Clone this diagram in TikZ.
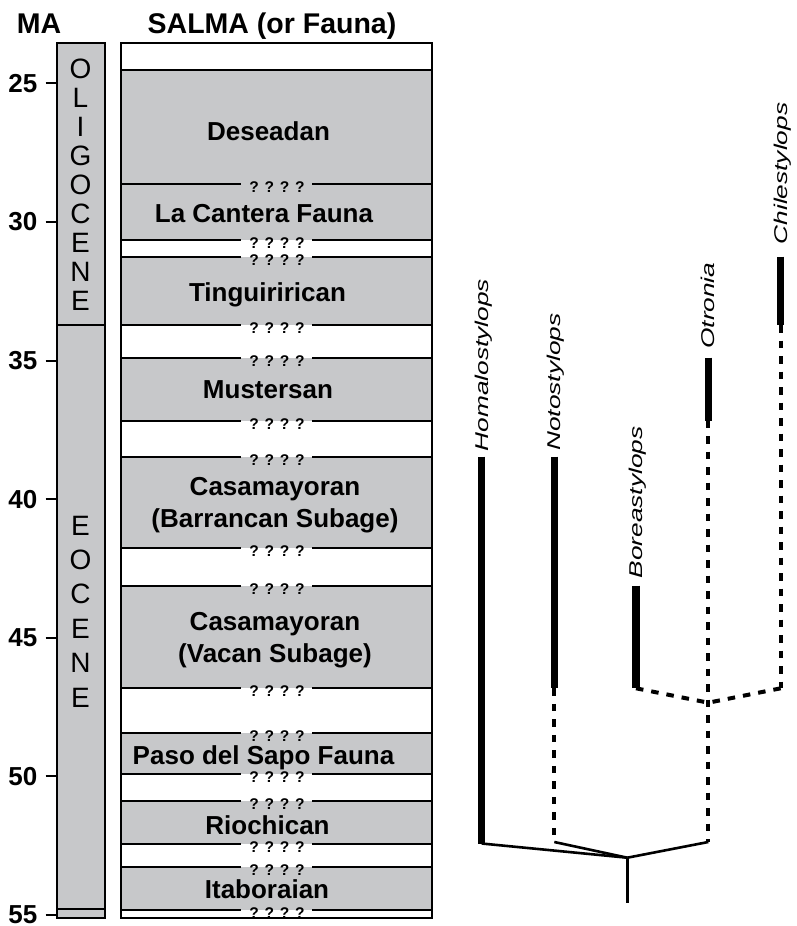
\documentclass[tikz,border=0pt]{standalone}
\usepackage{fontspec}
\setmainfont{Liberation Sans}
\definecolor{faunagray}{RGB}{199,200,202}

\begin{document}
\begin{tikzpicture}[x=1pt,y=-1pt,
        head/.style={font=\fontsize{28.5}{32}\selectfont\bfseries,anchor=base,inner sep=0},
        age/.style={font=\fontsize{26}{30}\selectfont\bfseries,anchor=base east,inner sep=0},
        epoch/.style={font=\fontsize{28}{30}\selectfont,anchor=base,inner sep=0},
        fauna label/.style={font=\fontsize{26}{32}\selectfont\bfseries,align=center,inner sep=0},
        qmark/.style={font=\fontsize{15.5}{18}\selectfont\bfseries,anchor=base,inner sep=0},
        taxon/.style={font=\fontsize{18.5}{20}\selectfont\itshape,rotate=90,xscale=1.42,anchor=base west,inner sep=0},
        col line/.style={line width=2pt},
        bound line/.style={line width=2.2pt},
        range bar/.style={line width=7.5pt},
        ghost/.style={line width=4pt,dash pattern=on 7.5pt off 8pt},
        branch/.style={line width=2.6pt}]

    \useasboundingbox (0,0) rectangle (796,926);

    % headings
    \node[head] (ma) at (39,33.5) {MA};
    \node[head] (salma) at (272,33.5) {SALMA (or Fauna)};

    % epoch column
    \filldraw[fill=faunagray,col line] (56.7,42.7) rectangle (104.5,918.3);
    \draw[col line] (56.7,325) -- (104.5,325);
    \draw[col line] (56.7,909.3) -- (104.5,909.3);
    \foreach \l [count=\i] in {O,L,I,G,O,C,E,N,E}
        \node[epoch] (olig\i) at (80.5,{78.3+29*(\i-1)}) {\l};
    \foreach \l [count=\i] in {E,O,C,E,N,E}
        \node[epoch] (eoc\i) at (80.5,{535+34.4*(\i-1)}) {\l};

    % age scale
    \foreach \m in {25,30,...,55} {
        \draw[col line] (45.7,{83.3+27.72*(\m-25)}) -- (56.7,{83.3+27.72*(\m-25)});
        \node[age] (age\m) at (37.5,{92.2+27.72*(\m-25)}) {\m};
    }

    % SALMA column
    \fill[white] (120.7,42.7) rectangle (431.7,918.3);
    \foreach \t/\b in {70/184,184/240,256.7/325,357.7/420.7,456.7/548.3,585.7/688.3,732.7/774,801/844,867.3/910}
        \fill[faunagray] (120.7,\t) rectangle (431.7,\b);
    \draw[col line] (120.7,42.7) rectangle (431.7,918.3);
    \draw[bound line] (120.7,70) -- (431.7,70);
    \foreach \y [count=\k] in {184,240,256.7,325,357.7,420.7,456.7,548.3,585.7,688.3,732.7,774,801,844,867.3,910} {
        \draw[bound line] (120.7,\y) -- (241,\y);
        \draw[bound line] (312,\y) -- (431.7,\y);
        \node[qmark] (q\k) at (277,{\y+8.5}) {? ? ? ?};
    }

    \node[fauna label,anchor=base] (deseadan) at (268.5,140.3) {Deseadan};
    \node[fauna label,anchor=base] (lacantera) at (264,222.8) {La Cantera Fauna};
    \node[fauna label,anchor=base] (tinguirirican) at (267.5,301) {Tinguirirican};
    \node[fauna label,anchor=base] (mustersan) at (268,398.3) {Mustersan};
    \node[fauna label] (barrancan) at (275,505.5) {Casamayoran\\(Barrancan Subage)};
    \node[fauna label] (vacan) at (275,640.3) {Casamayoran\\(Vacan Subage)};
    \node[fauna label,anchor=base] (pasodelsapo) at (263.5,764.3) {Paso del Sapo Fauna};
    \node[fauna label,anchor=base] (riochican) at (267.5,834.3) {Riochican};
    \node[fauna label,anchor=base] (itaboraian) at (267,898.3) {Itaboraian};

    % taxa
    \coordinate (homtop) at (481.7,456.7);
    \coordinate (hombot) at (481.7,843.5);
    \coordinate (nottop) at (554.3,456.7);
    \coordinate (notmid) at (554.3,688.3);
    \coordinate (notbot) at (554.3,842);
    \coordinate (bortop) at (636,585.7);
    \coordinate (borbot) at (636,688.3);
    \coordinate (otrtop) at (708.3,357.7);
    \coordinate (otrmid) at (708.3,420.7);
    \coordinate (otrbot) at (708.3,842);
    \coordinate (chitop) at (780.7,256.7);
    \coordinate (chimid) at (780.7,325);
    \coordinate (chibot) at (780.7,688.3);
    \coordinate (ghostnode) at (708.3,702.7);
    \coordinate (root) at (627.3,857.7);
    \coordinate (stem) at (627.3,902.7);

    \node[taxon] (homalostylops) at (488.3,451.7) {Homalostylops};
    \node[taxon] (notostylops) at (560.9,451) {Notostylops};
    \node[taxon] (boreastylops) at (642.6,578.7) {Boreastylops};
    \node[taxon] (otronia) at (714.9,349) {Otronia};
    \node[taxon] (chilestylops) at (787.3,244.6) {Chilestylops};

    \path
    (homtop) edge [range bar] (hombot)
    (nottop) edge [range bar] (notmid)
    (bortop) edge [range bar] (borbot)
    (otrtop) edge [range bar] (otrmid)
    (chitop) edge [range bar] (chimid)
    (notmid) edge [ghost] (notbot)
    (otrmid) edge [ghost] (otrbot)
    (chimid) edge [ghost] (chibot)
    (borbot) edge [ghost] (ghostnode)
    (chibot) edge [ghost] (ghostnode)
    (hombot) edge [branch] (root)
    (notbot) edge [branch] (root)
    (otrbot) edge [branch] (root)
    (root) edge [branch] (stem)
    ;
\end{tikzpicture}
\end{document}
